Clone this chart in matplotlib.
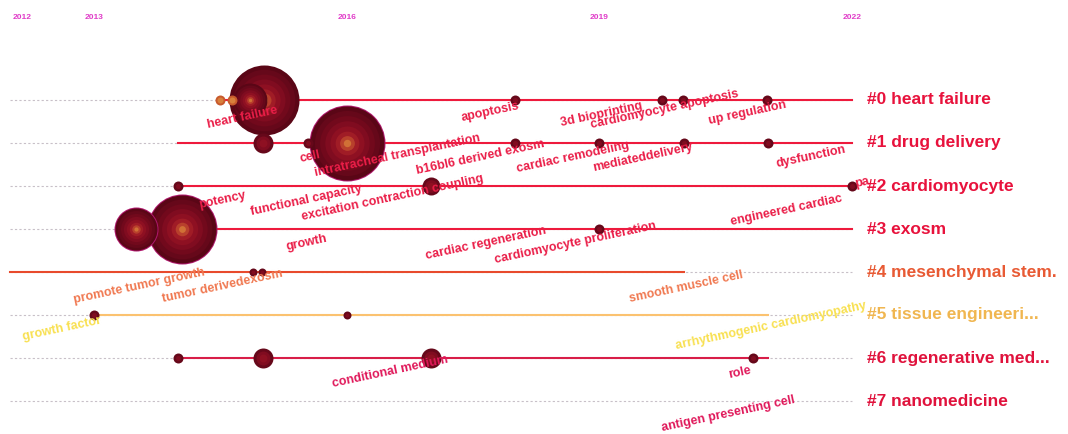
import numpy as np
import matplotlib
matplotlib.use('Agg')
import matplotlib.pyplot as plt

plt.rcParams['font.family'] = ['Liberation Sans', 'DejaVu Sans']

# ---- data ----
years = [2012, 2013, 2016, 2019, 2022]
cluster_names = ['#0 heart failure', '#1 drug delivery', '#2 cardiomyocyte', '#3 exosm',
                 '#4 mesenchymal stem.', '#5 tissue engineeri...', '#6 regenerative med...',
                 '#7 nanomedicine']
span_start = [2014.5, 2014.0, 2014.0, 2013.5, 2012.0, 2013.0, 2014.0, None]
span_end = [2022.0, 2022.0, 2022.0, 2022.0, 2020.0, 2021.0, 2021.0, None]

# nodes: cluster, year, size (radius)
node_cluster = [0, 0, 0, 0, 0, 0, 0, 0,
                1, 1, 1, 1, 1, 1, 1,
                2, 2, 2,
                3, 3, 3,
                4, 4,
                5, 5,
                6, 6, 6, 6]
node_year = [2015.02, 2014.85, 2014.49, 2014.64, 2018.0, 2019.74, 2019.99, 2020.99,
             2015.0, 2015.54, 2016.0, 2018.0, 2019.0, 2020.0, 2021.0,
             2014.0, 2017.0, 2022.0,
             2014.04, 2013.5, 2019.0,
             2014.89, 2014.99,
             2013.0, 2016.0,
             2014.0, 2015.0, 2017.0, 2020.82]
node_size = [35, 17, 5, 5, 5, 5, 5, 5,
             10, 5, 37, 5, 5, 5, 5,
             5, 9, 5,
             34, 21, 5,
             4, 4,
             5, 4,
             5, 10, 10, 5]
burst_nodes = [2, 3]  # the two small orange nodes left of "heart failure"

# keyword labels: text, cluster, year (center), offset below the line
kw_text = ['heart failure', 'apoptosis', '3d bioprinting', 'cardiomyocyte apoptosis', 'up regulation',
           'cell', 'intratracheal transplantation', 'b16bl6 derived exosm', 'cardiac remodeling',
           'mediateddelivery', 'dysfunction',
           'potency', 'functional capacity', 'excitation contraction coupling', 'engineered cardiac', 'pa',
           'growth', 'cardiac regeneration', 'cardiomyocyte proliferation',
           'promote tumor growth', 'tumor derivedexosm', 'smooth muscle cell',
           'growth factor', 'arrhythmogenic cardiomyopathy',
           'conditional medium', 'role',
           'antigen presenting cell']
kw_cluster = [0, 0, 0, 0, 0,
              1, 1, 1, 1, 1, 1,
              2, 2, 2, 2, 2,
              3, 3, 3,
              4, 4, 4,
              5, 5,
              6, 6,
              7]
kw_year = [2014.76, 2017.70, 2019.02, 2019.78, 2020.76,
           2015.56, 2016.60, 2017.59, 2018.69, 2019.51, 2021.51,
           2014.52, 2015.52, 2016.54, 2021.22, 2022.12,
           2015.52, 2017.65, 2018.71,
           2013.53, 2014.52, 2020.03,
           2012.62, 2021.04,
           2016.51, 2020.67,
           2020.53]
kw_drop = [0.40, 0.28, 0.33, 0.23, 0.30,
           0.33, 0.30, 0.33, 0.33, 0.33, 0.33,
           0.33, 0.33, 0.28, 0.56, -0.07,
           0.33, 0.33, 0.33,
           0.33, 0.33, 0.35,
           0.33, 0.26,
           0.33, 0.33,
           0.30]

# ---- styles ----
label_col = ['#e8123c', '#e8123c', '#e8123c', '#e8123c', '#e85a34', '#f0b650', '#e0123c', '#e0123c']
line_col = ['#ee1a3c', '#ee1a3c', '#ee1a3c', '#ee1a3c', '#e84a2c', '#fbc270', '#d81e48', '#d81e48']
kw_col = ['#ea1e48', '#ea1e48', '#ea1e48', '#ea1e48', '#f07850', '#f8e050', '#e0185a', '#e0185a']
rings = ['#5a0616', '#66081a', '#72091c', '#800c20', '#8e1022', '#a01c26', '#b8402c', '#d07036']

W, H = 1068, 434
fig = plt.figure(figsize=(W / 100, H / 100), dpi=100)
ax = fig.add_axes([0, 0, 1, 1])
px_per_year = 84.2
x0 = 2012 - 10 / px_per_year
ax.set_xlim(x0, x0 + W / px_per_year)
ax.set_ylim((H - 100) / 43, -100 / 43)
ax.axis('off')

# year ticks
for yr in years:
    ax.text(yr + (0.03 if yr == 2012 else 0), -1.93, str(yr), color='#e03cc8', fontsize=6,
            fontweight='bold', ha='left' if yr == 2012 else 'center', va='center')

# cluster lines
for i, name in enumerate(cluster_names):
    ax.plot([2012, 2022], [i, i], color='#c8c0c8', lw=0.8, ls=(0, (2, 2)), zorder=1)
    if span_start[i] is not None:
        ax.plot([span_start[i], span_end[i]], [i, i], color=line_col[i], lw=1.5, zorder=2)
    ax.text(2022.18, i, name, color=label_col[i], fontsize=12.5, fontweight='bold',
            ha='left', va='center', zorder=6)


def draw_node(xv, yv, r, zo, hot=False):
    if hot:
        fr = [1.0, 0.6]
        cols = ['#c85a2c', '#d8803c']
    elif r <= 6:
        fr = [1.0, 0.5]
        cols = [rings[1], rings[3]]
    elif r <= 12:
        fr = [1.0, 0.7, 0.4]
        cols = [rings[1], rings[3], rings[4]]
    else:
        fr = [1.0, 0.88, 0.74, 0.6, 0.46, 0.32, 0.2, 0.1]
        cols = rings
    for f, col in zip(fr, cols):
        s = (2 * r * f * 0.72) ** 2
        ax.scatter([xv], [yv], s=s, color=col, linewidths=0, zorder=zo)


order = np.argsort(node_size, kind='stable')[::-1]
for j in order:
    c = node_cluster[j]
    r = node_size[j]
    zo = 3 + (40 - r) / 100
    if c in (1, 3) and r > 15:
        ax.scatter([node_year[j]], [c], s=(2 * (r + 1) * 0.72) ** 2, color='#b0186e',
                   linewidths=0, zorder=zo - 0.001)
    draw_node(node_year[j], c, r, zo, hot=j in burst_nodes)

# keyword labels
for t, c, yr, d in zip(kw_text, kw_cluster, kw_year, kw_drop):
    ax.text(yr, c + d, t, color=kw_col[c], fontsize=9, fontweight='bold', rotation=12,
            rotation_mode='anchor', ha='center', va='center', zorder=5)

fig.savefig('out.png', dpi=100, facecolor='white')
